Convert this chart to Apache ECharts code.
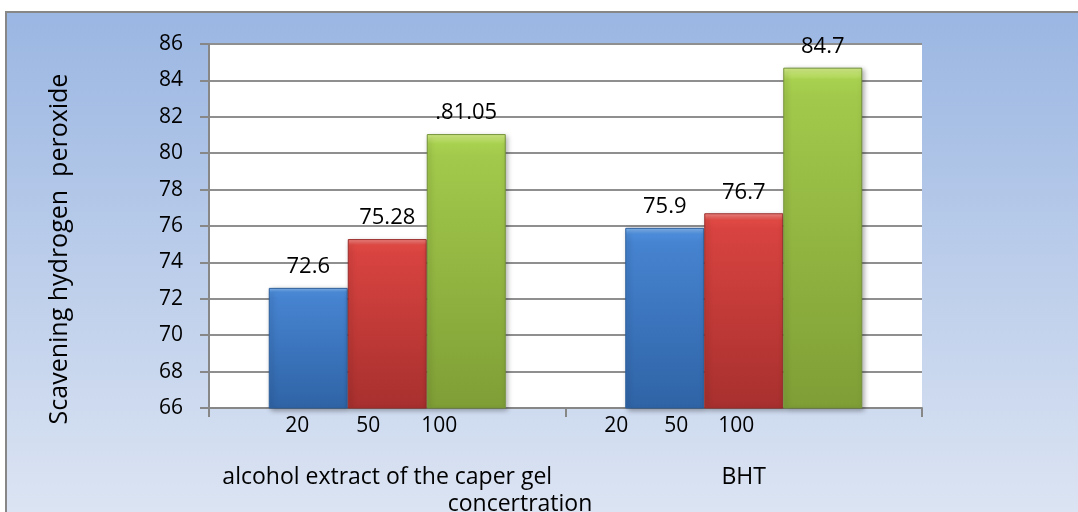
<!DOCTYPE html>
<html>
<head>
<meta charset="utf-8">
<script src="https://cdn.jsdelivr.net/npm/echarts@6/dist/echarts.min.js"></script>
<style>
html,body{margin:0;padding:0;background:#fff;overflow:hidden;}
#chart{width:1078px;height:512px;}
</style>
</head>
<body>
<div id="chart"></div>
<script>
// ---- data ----
const categories = ['alcohol extract of the caper gel', 'BHT'];
const concentrations = ['20', '50', '100'];
const values20 = [72.6, 75.9];
const values50 = [75.28, 76.7];
const values100 = [81.05, 84.7];
const labels20 = ['72.6', '75.9'];
const labels50 = ['75.28', '76.7'];
const labels100 = ['.81.05', '84.7'];
const yMin = 66, yMax = 86, yStep = 2;
const yTitle = 'Scavening hydrogen  peroxide';
const xTitle = 'concertration';

const FONT = 'Open Sans';

function grad(top, light, mid, bottom) {
  return new echarts.graphic.LinearGradient(0, 0, 0, 1, [
    { offset: 0, color: top },
    { offset: 0.035, color: light },
    { offset: 0.08, color: mid },
    { offset: 1, color: bottom }
  ]);
}
const colorsBlue = grad('#86b9f0', '#4d8edc', '#4683d0', '#2f64a6');
const colorsRed = grad('#f58a86', '#e14a45', '#d84340', '#a7302e');
const colorsGreen = grad('#d6f08a', '#a9d150', '#a2c94b', '#7f9e36');

function barSeries(name, values, labels, fill, edge) {
  return {
    name: name,
    type: 'bar',
    data: values,
    barWidth: 79,
    barGap: '0%',
    itemStyle: {
      color: fill,
      borderColor: edge,
      borderWidth: 1,
      shadowBlur: 5,
      shadowColor: 'rgba(0,0,0,0.35)',
      shadowOffsetX: 2,
      shadowOffsetY: 2
    },
    label: {
      show: true,
      position: 'top',
      distance: 10,
      fontFamily: FONT,
      fontSize: 22,
      color: '#000',
      formatter: function (p) { return labels[p.dataIndex]; }
    }
  };
}

const chart = echarts.init(document.getElementById('chart'), null, { renderer: 'canvas' });
chart.setOption({
  animation: false,
  textStyle: { fontFamily: FONT },
  graphic: [{
    type: 'rect',
    z: -10,
    silent: true,
    shape: { x: 6, y: 12, width: 1090, height: 510 },
    style: {
      fill: new echarts.graphic.LinearGradient(0, 0, 0, 1, [
        { offset: 0, color: '#9ab6e2' },
        { offset: 1, color: '#dde5f3' }
      ]),
      stroke: '#878787',
      lineWidth: 2
    }
  }],
  grid: {
    left: 209, top: 44, width: 713, height: 364,
    show: true, backgroundColor: '#ffffff', borderWidth: 0,
    containLabel: false,
    outerBoundsMode: 'none'
  },
  xAxis: {
    type: 'category',
    data: categories,
    name: xTitle,
    nameLocation: 'middle',
    nameGap: 82,
    nameTextStyle: { fontFamily: FONT, fontSize: 23, color: '#000', padding: [0, 91, 0, 0] },
    axisLine: { lineStyle: { color: '#878787', width: 2 } },
    axisTick: { show: true, length: 9, lineStyle: { color: '#878787', width: 2 } },
    axisLabel: {
      interval: 0,
      margin: 5,
      color: '#000',
      fontFamily: FONT,
      fontSize: 21,
      formatter: function (value, idx) {
        const cls = idx === 0 ? 'a' : 'b';
        const sp = idx === 0 ? 'sa' : 'sb';
        const nums = concentrations.map(function (c) { return '{' + cls + '|' + c + '}'; }).join('');
        return nums + '{' + sp + '| }\n{nm|' + value + '}';
      },
      rich: {
        a: { width: 71, fontSize: 21, lineHeight: 26, fontFamily: FONT, color: '#000' },
        b: { width: 60, fontSize: 21, lineHeight: 26, fontFamily: FONT, color: '#000' },
        sa: { width: 38, fontSize: 21, lineHeight: 26 },
        sb: { width: 135, fontSize: 21, lineHeight: 26 },
        nm: { fontSize: 23, lineHeight: 76, fontFamily: FONT, color: '#000' }
      }
    },
    splitLine: { show: false }
  },
  yAxis: {
    type: 'value',
    min: yMin, max: yMax, interval: yStep,
    name: yTitle,
    nameLocation: 'middle',
    nameGap: 137,
    nameTextStyle: { fontFamily: FONT, fontSize: 25, color: '#000', padding: [0, 46, 0, 0] },
    axisLine: { show: true, lineStyle: { color: '#878787', width: 2 } },
    axisTick: { show: true, length: 9, lineStyle: { color: '#878787', width: 2 } },
    axisLabel: { margin: 26, fontFamily: FONT, fontSize: 21, color: '#000' },
    splitLine: { show: true, lineStyle: { color: '#8f8f8f', width: 2 } }
  },
  series: [
    barSeries(concentrations[0], values20, labels20, colorsBlue, '#2d5f9c'),
    barSeries(concentrations[1], values50, labels50, colorsRed, '#9a2d2b'),
    barSeries(concentrations[2], values100, labels100, colorsGreen, '#74923a')
  ]
});
</script>
</body>
</html>
